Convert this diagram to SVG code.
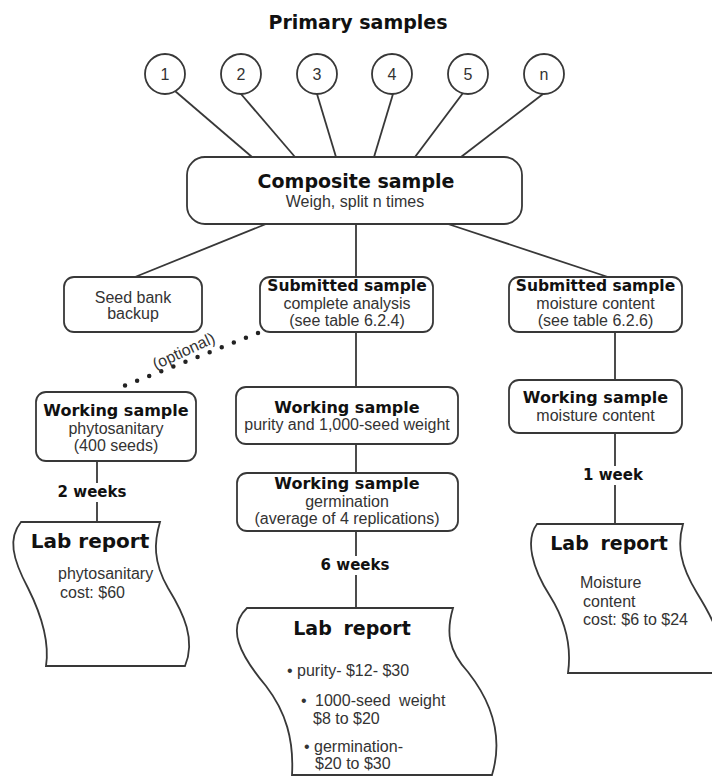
<svg xmlns="http://www.w3.org/2000/svg" width="712" height="777" viewBox="0 0 712 777">
<style>
.bg{fill:#fff}
.box{fill:#fff;stroke:#383838;stroke-width:1.8}
.ln{fill:none;stroke:#383838;stroke-width:1.8}
.dot{fill:none;stroke:#222;stroke-width:4.5;stroke-linecap:round;stroke-dasharray:0 13}
.b{font-family:"DejaVu Sans","Liberation Sans",sans-serif;font-weight:bold;fill:#111;text-anchor:middle}
.r{font-family:"Liberation Sans",Arial,sans-serif;font-size:16px;fill:#333}
.c{text-anchor:middle}
</style>
<rect class="bg" x="0" y="0" width="712" height="777"/>

<g id="connectors">
  <line class="ln" x1="175" y1="91" x2="252" y2="157"/>
  <line class="ln" x1="241" y1="94" x2="295" y2="157"/>
  <line class="ln" x1="317" y1="94" x2="336" y2="157"/>
  <line class="ln" x1="393" y1="94" x2="374" y2="157"/>
  <line class="ln" x1="463" y1="93" x2="415" y2="157"/>
  <line class="ln" x1="543" y1="94" x2="461" y2="157"/>
  <line class="ln" x1="266" y1="224" x2="135" y2="277"/>
  <line class="ln" x1="356" y1="224" x2="356" y2="277"/>
  <line class="ln" x1="448" y1="224" x2="608" y2="277"/>
  <line class="ln" x1="356" y1="332" x2="356" y2="387"/>
  <line class="ln" x1="356" y1="444" x2="356" y2="473"/>
  <line class="ln" x1="356" y1="531" x2="356" y2="556"/>
  <line class="ln" x1="356" y1="575" x2="356" y2="608"/>
  <line class="ln" x1="97" y1="461" x2="97" y2="483"/>
  <line class="ln" x1="97" y1="502" x2="97" y2="522"/>
  <line class="ln" x1="615" y1="332" x2="615" y2="380"/>
  <line class="ln" x1="615" y1="433" x2="615" y2="466"/>
  <line class="ln" x1="615" y1="485" x2="615" y2="524"/>
  <line class="dot" x1="258" y1="333" x2="119" y2="388"/>
  <text class="r" font-size="19" text-anchor="middle" transform="translate(186,356) rotate(-25)">(optional)</text>
  <text class="b" font-size="15" x="92" y="497">2 weeks</text>
  <text class="b" font-size="15" x="355" y="570">6 weeks</text>
  <text class="b" font-size="15" x="613" y="480">1 week</text>
</g>

<text class="b" font-size="19" x="358" y="29">Primary samples</text>

<g id="p1"><ellipse class="box" cx="165" cy="74" rx="20" ry="20"/><text class="r c" font-size="17" x="165" y="80">1</text></g>
<g id="p2"><ellipse class="box" cx="241" cy="74" rx="20" ry="20"/><text class="r c" font-size="17" x="241" y="80">2</text></g>
<g id="p3"><ellipse class="box" cx="317" cy="74" rx="20" ry="20"/><text class="r c" font-size="17" x="317" y="80">3</text></g>
<g id="p4"><ellipse class="box" cx="392" cy="74" rx="20" ry="20"/><text class="r c" font-size="17" x="392" y="80">4</text></g>
<g id="p5"><ellipse class="box" cx="468" cy="74" rx="20" ry="20"/><text class="r c" font-size="17" x="468" y="80">5</text></g>
<g id="pn"><ellipse class="box" cx="544" cy="74" rx="20" ry="20"/><text class="r c" font-size="17" x="544" y="80">n</text></g>

<g id="composite">
  <rect class="box" x="187" y="157" width="335" height="67" rx="18"/>
  <text class="b" font-size="19" x="356" y="188">Composite sample</text>
  <text class="r c" x="355" y="207">Weigh, split n times</text>
</g>

<g id="seedbank">
  <rect class="box" x="64" y="277" width="138" height="55" rx="10"/>
  <text class="r c" x="133" y="303">Seed bank</text>
  <text class="r c" x="133" y="319">backup</text>
</g>

<g id="submitted-complete">
  <rect class="box" x="260" y="277" width="173" height="55" rx="10"/>
  <text class="b" font-size="15.5" x="347" y="291">Submitted sample</text>
  <text class="r c" font-size="15" x="347" y="309">complete analysis</text>
  <text class="r c" font-size="15" x="347" y="326">(see table 6.2.4)</text>
</g>

<g id="submitted-moisture">
  <rect class="box" x="509" y="277" width="173" height="55" rx="10"/>
  <text class="b" font-size="15.5" x="595.5" y="291">Submitted sample</text>
  <text class="r c" font-size="15" x="595.5" y="309">moisture content</text>
  <text class="r c" font-size="15" x="595.5" y="326">(see table 6.2.6)</text>
</g>

<g id="working-phyto">
  <rect class="box" x="36" y="392" width="160" height="69" rx="10"/>
  <text class="b" font-size="16" x="116" y="416">Working sample</text>
  <text class="r c" x="116" y="434">phytosanitary</text>
  <text class="r c" x="116" y="451">(400 seeds)</text>
</g>

<g id="working-purity">
  <rect class="box" x="236" y="387" width="222" height="57" rx="10"/>
  <text class="b" font-size="16" x="347" y="413">Working sample</text>
  <text class="r c" x="347" y="430">purity and 1,000-seed weight</text>
</g>

<g id="working-germination">
  <rect class="box" x="237" y="473" width="221" height="58" rx="10"/>
  <text class="b" font-size="16" x="347" y="489">Working sample</text>
  <text class="r c" x="347" y="507">germination</text>
  <text class="r c" x="347" y="524">(average of 4 replications)</text>
</g>

<g id="working-moisture">
  <rect class="box" x="509" y="380" width="173" height="53" rx="10"/>
  <text class="b" font-size="16" x="595.5" y="403">Working sample</text>
  <text class="r c" x="595.5" y="421">moisture content</text>
</g>

<g id="report-phyto">
  <path class="box" d="M21,522 L160,522 C154,542 153,562 168,588 C184,614 196,640 185,666 L46,666 C50,640 40,612 28,588 C12,558 8,538 21,522 Z"/>
  <text class="b" font-size="20" x="90" y="548">Lab report</text>
  <text class="r" x="58" y="579">phytosanitary</text>
  <text class="r" x="60" y="598">cost: $60</text>
</g>

<g id="report-complete">
  <path class="box" d="M247,608 L453,608 C446,632 448,650 468,672 C490,700 504,735 492,775 L292,775 C294,740 286,712 266,686 C240,655 226,628 247,608 Z"/>
  <text class="b" font-size="19" word-spacing="5" x="352" y="635">Lab report</text>
  <text class="r" x="287" y="676">• purity- $12- $30</text>
  <text class="r" x="301" y="706" word-spacing="4">• 1000-seed weight</text>
  <text class="r" x="313" y="724">$8 to $20</text>
  <text class="r" x="304" y="752">• germination-</text>
  <text class="r" x="315" y="769">$20 to $30</text>
</g>

<g id="report-moisture">
  <path class="box" d="M537,524 L683,524 C677,545 680,565 697,593 C715,622 728,650 722,673 L568,673 C572,645 565,620 550,596 C532,568 525,540 537,524 Z"/>
  <text class="b" font-size="19" word-spacing="5" x="609" y="550">Lab report</text>
  <text class="r" x="580" y="588">Moisture</text>
  <text class="r" x="583" y="607">content</text>
  <text class="r" x="583" y="625">cost: $6 to $24</text>
</g>
</svg>
